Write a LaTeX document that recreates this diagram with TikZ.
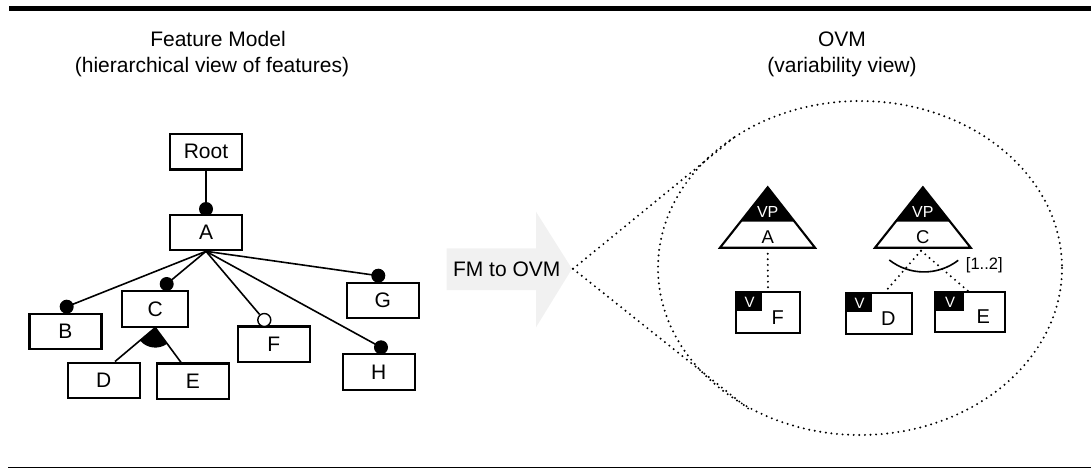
\documentclass[tikz,border=0pt]{standalone}
\usepackage{fontspec}
\setmainfont{Liberation Sans}
\usetikzlibrary{calc}
\definecolor{arrowgray}{RGB}{241,241,241}
\begin{document}
\begin{tikzpicture}[x=1pt,y=-1pt,
  feat/.style={draw, line width=2.1pt, fill=white, minimum width=72pt, minimum height=35.5pt, inner sep=0pt, font=\fontsize{21}{25}\selectfont},
  fulldot/.style={circle, fill=black, minimum size=14pt, inner sep=0pt},
  optdot/.style={circle, draw, line width=1.4pt, fill=white, minimum size=13pt, inner sep=0pt},
  conn/.style={line width=1.6pt},
  dotline/.style={line width=2.2pt, line cap=round, dash pattern=on 0pt off 5.6pt},
  ttl/.style={anchor=base, inner sep=0pt, font=\fontsize{21}{25}\selectfont},
  vbox/.style={draw, line width=2.1pt, fill=white, inner sep=0pt},
  vtext/.style={inner sep=0pt, text=white, font=\fontsize{15}{18}\selectfont},
  vptext/.style={inner sep=0pt, text=white, font=\fontsize{16}{19}\selectfont},
  tritext/.style={inner sep=0pt, font=\fontsize{18.5}{22}\selectfont},
  vlab/.style={inner sep=0pt, font=\fontsize{20}{24}\selectfont},
  tri/.style={line width=2.1pt, line join=miter}
]
\useasboundingbox (0,0) rectangle (1091,469);

% frame lines
\fill (9,6) rectangle (1091,10.8);
\draw[line width=1.3pt] (8,467.8) -- (1091,467.8);

% titles
\node[ttl] (t1) at (218,46.5) {Feature Model};
\node[ttl] (t2) at (212,72.5) {(hierarchical view of features)};
\node[ttl] (t3) at (842,46.5) {OVM};
\node[ttl] (t4) at (842,72.5) {(variability view)};

% ---------- feature model ----------
\node[fulldot] (dA) at (206,209) {};
\node[fulldot] (dB) at (66.7,306.7) {};
\node[fulldot] (dC) at (166.7,284) {};
\node[fulldot] (dG) at (378.3,275.7) {};
\node[fulldot] (dH) at (381,347.3) {};

\node[feat] (Root) at (206,151.7) {Root};
\node[feat] (A) at (206,232.5) {A};
\node[feat] (B) at (65.5,331.3) {B};
\node[feat, minimum width=66pt] (C) at (155.3,308.8) {C};
\node[feat] (D) at (103.8,380.3) {D};
\node[feat] (E) at (192.8,381.2) {E};
\node[feat] (F) at (273.8,344.2) {F};
\node[feat] (G) at (382.8,300.5) {G};
\node[feat] (H) at (378.8,371.8) {H};

\node[optdot] (dF) at (264.3,320) {};

\draw[conn] (Root.south) -- (dA.center);
\draw[conn] (A.south) -- (dB.center);
\draw[conn] (A.south) -- (dC.center);
\draw[conn] (A.south) -- (dF);
\draw[conn] (A.south) -- (dG.center);
\draw[conn] (A.south) -- (dH.center);

\fill (C.south) -- ++(54.8:20) arc[start angle=54.8, end angle=138.6, radius=20] -- cycle;
\draw[conn] (C.south) -- ($(D.north)+(11.2,0)$);
\draw[conn] (C.south) -- ($(E.north)+(-11.8,0)$);

% ---------- arrow ----------
\fill[arrowgray] (446.7,248.3) -- (536,248.3) -- (536,211.7) -- (572,268.8)
  -- (536,327.3) -- (536,290) -- (446.7,290) -- cycle;
\coordinate (tip) at (573,268.8);
\node[inner sep=0pt, font=\fontsize{21}{25}\selectfont] (fm) at (506.7,268.9) {FM to OVM};

% ---------- OVM ----------
\draw[dotline] (860,268) ellipse [x radius=202, y radius=167];
\coordinate (zt) at (737,135);
\coordinate (zb) at (750,410);
\draw[dotline] (tip) -- (zt);
\draw[dotline] (tip) -- (zb);

% VP A
\coordinate (vA) at (767.7,187.3);
\fill (vA) -- (740.65,221.7) -- (794.75,221.7) -- cycle;
\draw[tri] (vA) -- (720,247.7) -- (815,247.7) -- cycle;
\node[vptext] (vpA) at (767.7,211.8) {VP};
\node[tritext] (labA) at (767.7,236.8) {A};
\coordinate (Abase) at (767.7,247.7);

% VP C
\coordinate (vC) at (922.85,187.3);
\fill (vC) -- (895.6,221.7) -- (950.1,221.7) -- cycle;
\draw[tri] (vC) -- (875,247.7) -- (970.7,247.7) -- cycle;
\node[vptext] (vpC) at (922.85,211.8) {VP};
\node[tritext] (labC) at (922.85,236.8) {C};
\coordinate (Cbase) at (921,247.7);

% variant boxes
\node[vbox, minimum width=64pt, minimum height=41pt] (vF) at (768,312.8) {};
\fill (vF.north west) rectangle ++(27.3,20);
\node[vtext] (vFV) at (749.5,302.8) {V};
\node[vlab] (vFl) at (777.7,317.7) {F};

\node[vbox, minimum width=66pt, minimum height=41pt] (vD) at (878.7,313.8) {};
\fill (vD.north west) rectangle ++(27.6,20);
\node[vtext] (vDV) at (859.5,303.8) {V};
\node[vlab] (vDl) at (888.3,318.3) {D};

\node[vbox, minimum width=70pt, minimum height=39.4pt] (vE) at (970,312) {};
\fill (vE.north west) rectangle ++(30,19.7);
\node[vtext] (vEV) at (950,302.3) {V};
\node[vlab] (vEl) at (983.3,316.7) {E};

% dotted dependencies
\draw[dotline] ($(Abase)+(0,6)$) -- (vF.north);
\draw[dotline] ($(Cbase)+(0,3)$) -- ($(vD.north)+(6,0)$);
\draw[dotline] ($(Cbase)+(0,3)$) -- ($(vE.north)+(-1.7,0)$);

% cardinality arc
\draw[conn] (889.3,260) arc[start angle=128, end angle=52.5, radius=56.3];
\node[anchor=west, inner sep=0pt, font=\fontsize{16.5}{20}\selectfont] (card) at (965.7,265) {[1..2]};
\end{tikzpicture}
\end{document}
